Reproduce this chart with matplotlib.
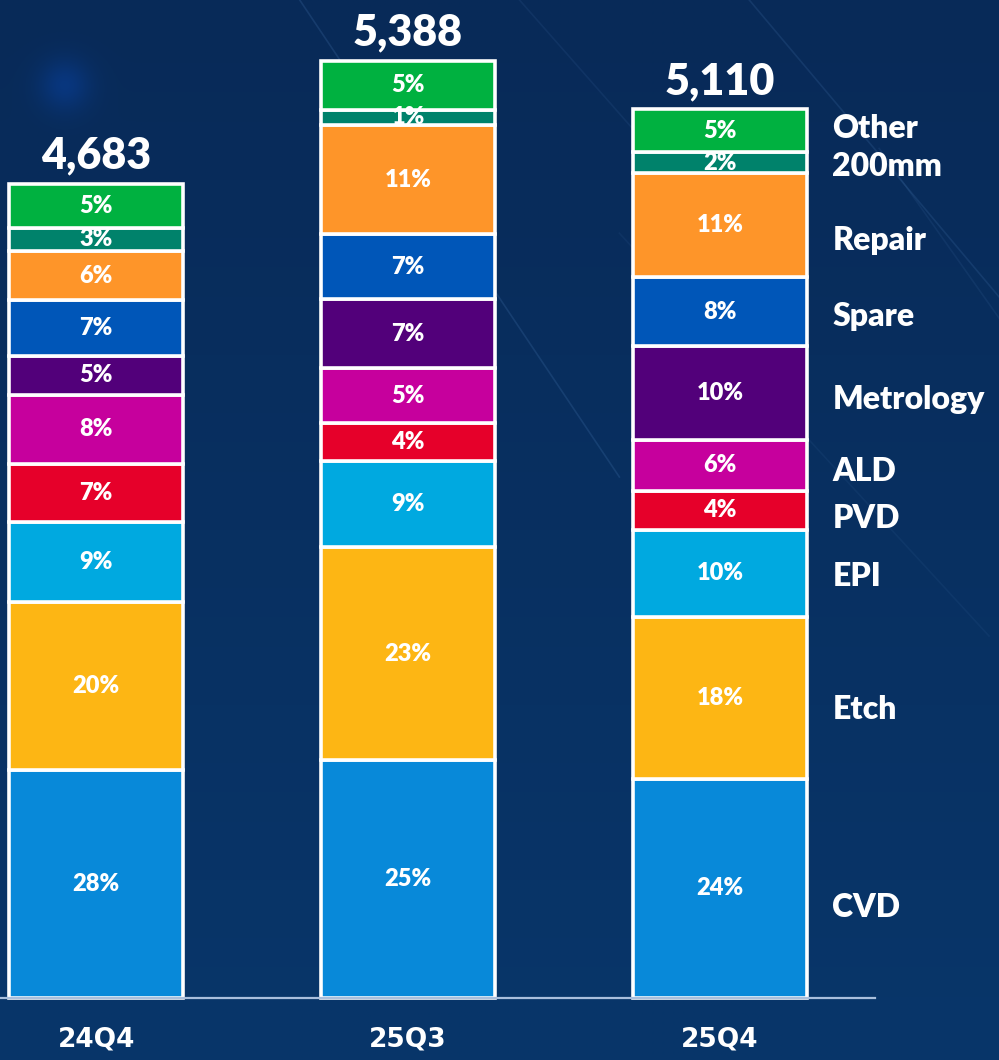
import matplotlib
matplotlib.use("Agg")
import matplotlib.pyplot as plt
import numpy as np

# quarters and totals
quarters = ["24Q4", "25Q3", "25Q4"]
totals = [4683, 5388, 5110]

# segments, bottom to top
segments = ["CVD", "Etch", "EPI", "PVD", "ALD", "Metrology", "Spare", "Repair", "200mm", "Other"]
colors = ["#0889d9", "#fdb614", "#00a9e0", "#e6002a", "#c6009d",
          "#52007a", "#0056b8", "#fe9529", "#00826b", "#00b140"]

# share of each segment, bottom to top
shares_24q4 = [28.0, 20.6, 9.8, 7.2, 8.5, 4.7, 6.9, 6.0, 2.9, 5.4]
shares_25q3 = [25.4, 22.7, 9.2, 4.1, 5.8, 7.4, 6.9, 11.7, 1.6, 5.2]
shares_25q4 = [24.7, 18.2, 9.8, 4.4, 5.7, 10.6, 7.7, 11.7, 2.4, 4.8]

# printed labels
labels_24q4 = ["28%", "20%", "9%", "7%", "8%", "5%", "7%", "6%", "3%", "5%"]
labels_25q3 = ["25%", "23%", "9%", "4%", "5%", "7%", "7%", "11%", "1%", "5%"]
labels_25q4 = ["24%", "18%", "10%", "4%", "6%", "10%", "8%", "11%", "2%", "5%"]

all_shares = [shares_24q4, shares_25q3, shares_25q4]
all_labels = [labels_24q4, labels_25q3, labels_25q4]

# the names on the right sit a little off the segment centres (in pixels, down is positive)
name_nudge_px = [19, 12, 3, 8, 6, 7, 5, 15, 4, -2]

FONT = ["Lato", "DejaVu Sans"]
NARROW = ["Liberation Sans Narrow", "DejaVu Sans"]

fig = plt.figure(figsize=(9.99, 10.60), dpi=100)

# background: navy gradient with a few faint streaks
bg = fig.add_axes([0, 0, 1, 1])
bg.set_axis_off()
h, w = 106, 100
yy, xx = np.mgrid[0:h, 0:w]
top = np.array([0x08, 0x2a, 0x58]) / 255
bot = np.array([0x08, 0x36, 0x6a]) / 255
t = (yy / (h - 1))[..., None]
img = top * (1 - t) + bot * t
glow = np.exp(-(((xx - 6) ** 2) / 6 + ((yy - 8) ** 2) / 6))[..., None]
img = img + glow * np.array([0.0, 0.05, 0.16])
bg.imshow(np.clip(img, 0, 1), extent=[0, 1, 0, 1], aspect="auto", interpolation="bicubic")
for x0, x1, y0, y1, a in [(0.30, 0.62, 1.0, 0.55, 0.14), (0.52, 0.80, 1.0, 0.70, 0.08),
                          (0.75, 1.00, 1.0, 0.72, 0.12), (0.88, 1.00, 0.86, 0.70, 0.08),
                          (0.62, 0.99, 0.78, 0.40, 0.06)]:
    bg.plot([x0, x1], [y0, y1], color="#6fa8e8", lw=1.2, alpha=a)
bg.set_xlim(0, 1)
bg.set_ylim(0, 1)

ax = fig.add_axes([0, 0, 1, 1])
ax.patch.set_alpha(0)
ax.set_axis_off()

x = np.arange(len(quarters))
width = 0.56

for i, (shares, labels) in enumerate(zip(all_shares, all_labels)):
    vals = np.array(shares) / sum(shares) * totals[i]
    bottoms = np.concatenate([[0], np.cumsum(vals)[:-1]])
    bars = ax.bar(np.full(len(vals), x[i]), vals, width=width, bottom=bottoms,
                  color=colors, edgecolor="white", linewidth=2.6, zorder=3)
    for bar, b, v, lab in zip(bars, bottoms, vals, labels):
        txt = ax.text(x[i], b + v / 2, lab, ha="center", va="center", color="white",
                      fontsize=17, fontweight="heavy", family=FONT, zorder=4)
        txt.set_clip_path(bar)
    ax.annotate(f"{totals[i]:,}", (x[i], totals[i]), xytext=(0, 6), textcoords="offset points",
                ha="center", va="bottom", color="white", fontsize=31, fontweight="heavy",
                family=FONT)
    ax.annotate(quarters[i], (x[i], 0), xytext=(0, -30), textcoords="offset points",
                ha="center", va="center", color="white", fontsize=19, fontweight="bold",
                family=NARROW)

    # segment names next to the last bar
    if i == len(quarters) - 1:
        for name, b, v, nud in zip(segments, bottoms, vals, name_nudge_px):
            ax.annotate(name, (x[i] + 0.36, b + v / 2), xytext=(0, -nud * 0.72),
                        textcoords="offset points", ha="left", va="center", color="white",
                        fontsize=23, fontweight="heavy", family=FONT)

ax.axhline(0, xmin=0, xmax=875 / 999, color="#a9bfdc", lw=1.6, zorder=5)

ax.set_xlim(-0.308, 2.894)
ax.set_ylim(-356.5, 5739)

fig.savefig("out.png", dpi=100)
